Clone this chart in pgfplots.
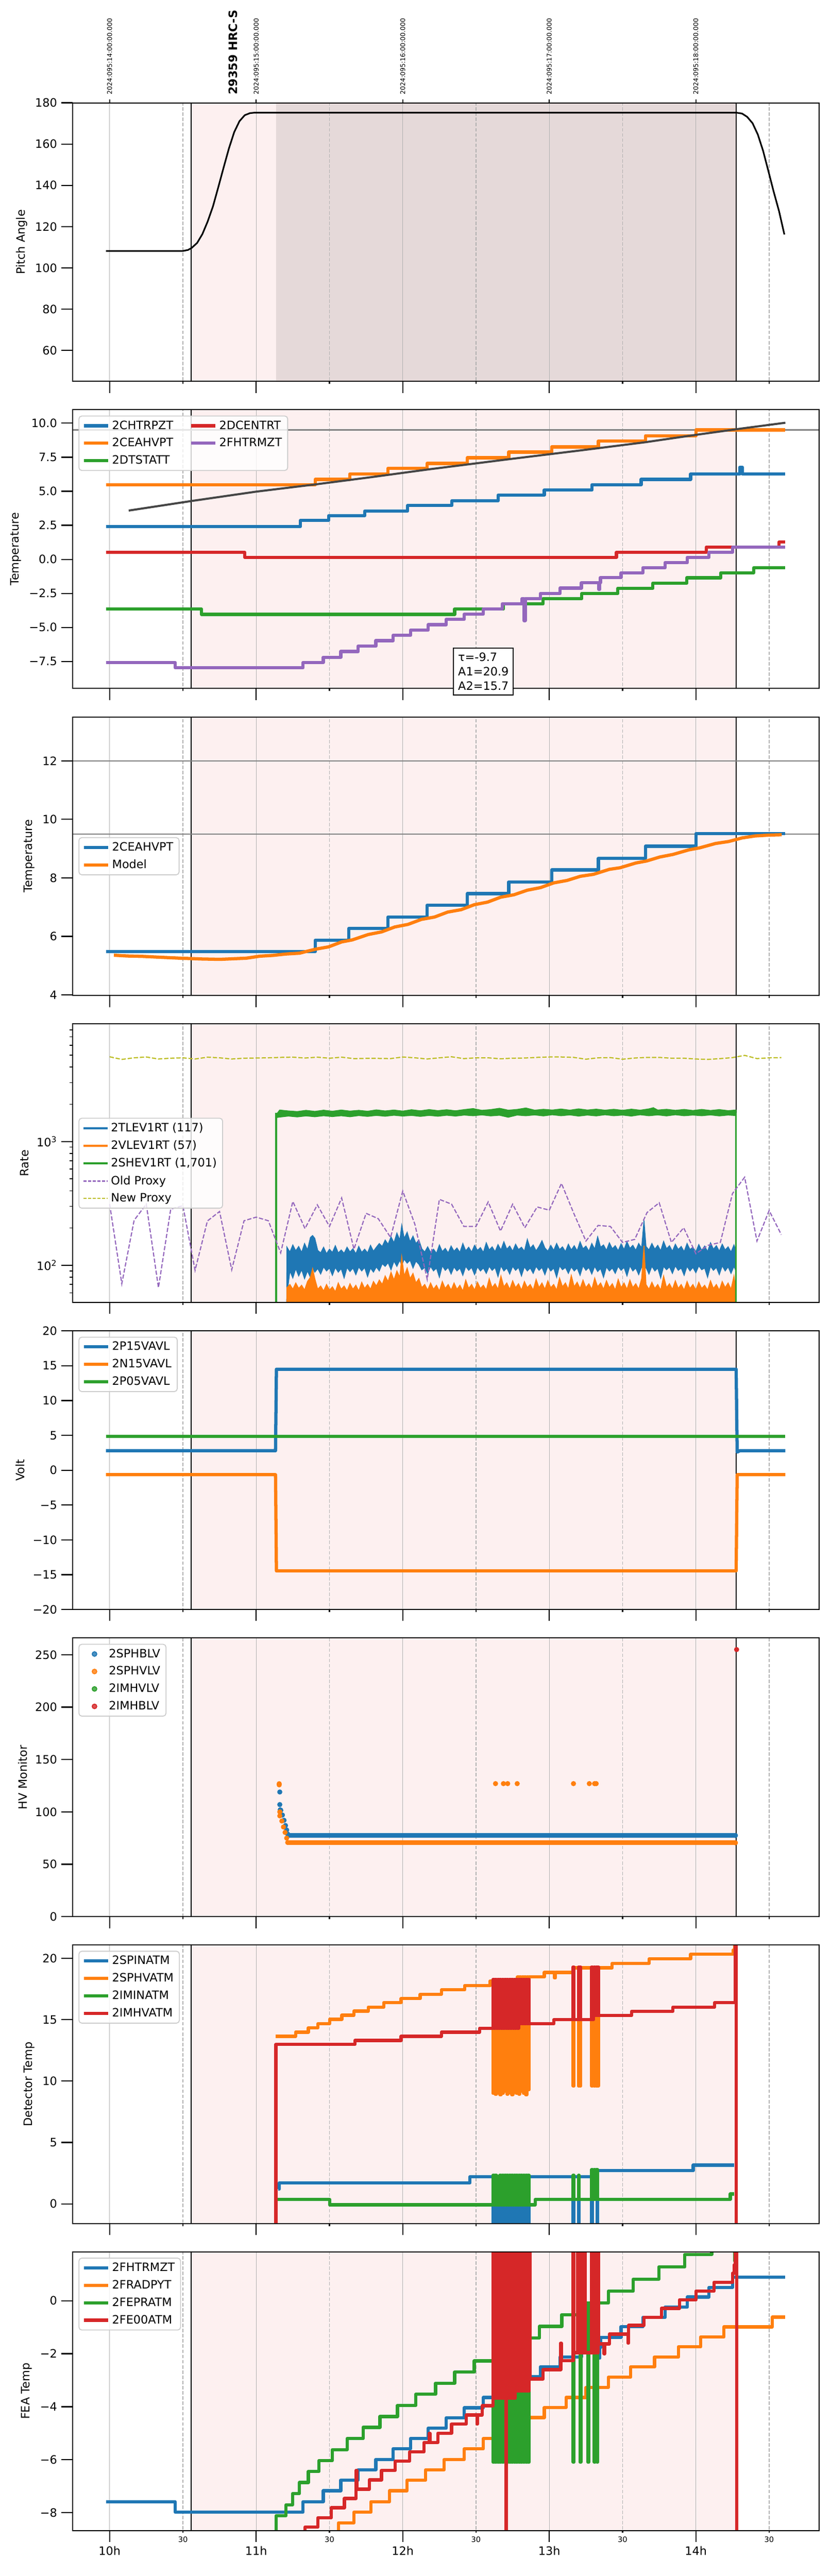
\documentclass[border=0pt]{standalone}
\usepackage{fontspec}
\setmainfont{DejaVu Sans}
\usepackage{pgfplots}
\pgfplotsset{compat=1.18}
\definecolor{tblue}{HTML}{1F77B4}
\definecolor{torange}{HTML}{FF7F0E}
\definecolor{tgreen}{HTML}{2CA02C}
\definecolor{tred}{HTML}{D62728}
\definecolor{tpurple}{HTML}{9467BD}
\definecolor{tolive}{HTML}{BCBD22}
\definecolor{spanpink}{HTML}{FDF0F0}
\definecolor{spandark}{HTML}{E5D9D9}
\definecolor{gridgray}{HTML}{B0B0B0}
\definecolor{refgray}{HTML}{808080}
\definecolor{fitgray}{HTML}{454545}
\pgfplotsset{
  panel/.style={
    axis on top,
    scale only axis, width=646.6pt, height=241.4pt,
    xmin=9.748, xmax=14.84,
    axis line style={line width=0.9pt},
    tick align=outside, xtick pos=bottom, ytick pos=left,
    major tick length=10pt, minor tick length=2.6pt,
    every tick/.style={black, line width=1pt},
    every minor tick/.style={line width=0.6pt},
    xtick={10,11,12,13,14}, xticklabels={},
    extra x ticks={10.5,11.5,12.5,13.5,14.5}, extra x tick labels={},
    extra x tick style={major tick length=2pt},
    tick label style={font=\fontsize{10}{12}\selectfont},
    ylabel style={font=\fontsize{10}{12}\selectfont},
    /pgf/number format/assume math mode=true,
    legend style={draw=black!20, line width=0.8pt, rounded corners=2.5pt, fill=white, fill opacity=0.8, draw opacity=1, text opacity=1,
      font=\fontsize{10}{12}\selectfont, at={(0.0077,0.9793)}, anchor=north west, row sep=2.2pt},
    legend cell align=left,
    legend image code/.code={\draw[#1] (0pt,0pt) -- (21pt,0pt);},
  },
  thk/.style={line width=2.8pt, line join=round},
  gmaj/.style={gridgray, line width=0.6pt, forget plot},
  gmin/.style={gridgray, line width=0.6pt, dash pattern=on 3pt off 1.5pt, forget plot},
}
\newcommand{\grids}[2]{%
  \addplot[gmaj] coordinates {(10,#1)(10,#2)};
  \addplot[gmaj] coordinates {(11,#1)(11,#2)};
  \addplot[gmaj] coordinates {(12,#1)(12,#2)};
  \addplot[gmaj] coordinates {(13,#1)(13,#2)};
  \addplot[gmaj] coordinates {(14,#1)(14,#2)};
  \addplot[gmin] coordinates {(10.5,#1)(10.5,#2)};
  \addplot[gmin] coordinates {(11.5,#1)(11.5,#2)};
  \addplot[gmin] coordinates {(12.5,#1)(12.5,#2)};
  \addplot[gmin] coordinates {(13.5,#1)(13.5,#2)};
  \addplot[gmin] coordinates {(14.5,#1)(14.5,#2)};
  \addplot[black, line width=0.8pt, forget plot] coordinates {(10.557,#1)(10.557,#2)};
  \addplot[black, line width=0.8pt, forget plot] coordinates {(14.275,#1)(14.275,#2)};
}
\newcommand{\spans}[2]{%
  \addplot[fill=spanpink, draw=none, forget plot] coordinates {(10.557,#1)(14.275,#1)(14.275,#2)(10.557,#2)(10.557,#1)};
  \grids{#1}{#2}
}
\begin{document}
\begin{tikzpicture}
\useasboundingbox (0,0) rectangle (720pt,2232pt);

% ---------------- Panel 1: Pitch
\begin{axis}[panel, at={(63pt,1901.5pt)}, anchor=south west, ymin=45, ymax=180, ytick={60,80,100,120,140,160,180}, ylabel={Pitch Angle}]
\addplot[fill=spanpink, draw=none, forget plot] coordinates {(10.557,0)(14.275,0)(14.275,200)(10.557,200)(10.557,0)};
\addplot[fill=spandark, draw=none, forget plot] coordinates {(11.136,0)(14.275,0)(14.275,200)(11.136,200)(11.136,0)};
\grids{0}{200}
\addplot[black, line width=1.4pt, line join=round] coordinates {(9.975,108.2)(10.30,108.2)(10.50,108.2)(10.535,108.7)(10.56,109.7)(10.597,112.1)(10.633,116.4)(10.669,122.5)(10.705,129.8)(10.741,139.0)(10.778,148.7)(10.814,157.9)(10.85,165.8)(10.886,171.1)(10.922,174.0)(10.958,175.0)(10.987,175.2)(14.278,175.2)(14.315,174.8)(14.35,173.2)(14.387,170.1)(14.423,164.6)(14.459,156.7)(14.495,146.9)(14.53,137.2)(14.568,127.4)(14.604,116.2)};
\end{axis}
\begin{axis}[scale only axis, width=646.6pt, height=241.4pt, at={(63pt,1901.5pt)}, anchor=south west,
  xmin=9.748, xmax=14.84, ymin=0, ymax=1, axis x line*=top, axis y line=none,
  xtick={10,11,12,13,14}, xticklabels={}, tick align=outside, major tick length=3pt,
  every tick/.style={black, line width=0.8pt}, axis line style={line width=0.9pt}]
\addplot[draw=none] coordinates {(10,0.5)(11,0.5)};
\end{axis}
\node[rotate=90, anchor=west, inner sep=0pt, font=\fontsize{5.6}{6}\selectfont] at (95.0pt,2149.7pt) {2024:095:14:00:00.000};
\node[rotate=90, anchor=west, inner sep=0pt, font=\fontsize{5.6}{6}\selectfont] at (222.0pt,2149.7pt) {2024:095:15:00:00.000};
\node[rotate=90, anchor=west, inner sep=0pt, font=\fontsize{5.6}{6}\selectfont] at (348.96pt,2149.7pt) {2024:095:16:00:00.000};
\node[rotate=90, anchor=west, inner sep=0pt, font=\fontsize{5.6}{6}\selectfont] at (475.9pt,2149.7pt) {2024:095:17:00:00.000};
\node[rotate=90, anchor=west, inner sep=0pt, font=\fontsize{5.6}{6}\selectfont] at (602.9pt,2149.7pt) {2024:095:18:00:00.000};
\node[rotate=90, anchor=west, inner sep=0pt, font=\bfseries\fontsize{10}{12}\selectfont] at (202.05pt,2149.7pt) {29359 HRC-S};

% ---------------- Panel 2: Temperature
\begin{axis}[panel, at={(63pt,1635.5pt)}, anchor=south west, ymin=-9.48, ymax=10.98,
  ytick={-7.5,-5,-2.5,0,2.5,5,7.5,10}, yticklabels={−7.5,−5.0,−2.5,0.0,2.5,5.0,7.5,10.0},
  ylabel={Temperature}, legend columns=2,
  legend style={/tikz/every even column/.append style={column sep=12pt}}]
\spans{-20}{20}
\addplot[refgray, line width=1pt, forget plot] coordinates {(9.6,9.5)(15,9.5)};
\addplot[tblue, thk, const plot, forget plot] coordinates {(9.975,2.41)(11.302,2.85)(11.494,3.21)(11.740,3.55)(12.033,3.95)(12.336,4.31)(12.651,4.72)(12.966,5.09)(13.291,5.48)(13.627,5.87)(13.964,6.26)(14.300,6.76)(14.318,6.26)(14.611,6.26)};
\addplot[torange, thk, const plot, forget plot] coordinates {(9.975,5.48)(11.403,5.87)(11.638,6.26)(11.899,6.67)(12.166,7.04)(12.441,7.46)(12.723,7.87)(13.016,8.25)(13.335,8.68)(13.656,9.08)(14.000,9.50)(14.611,9.50)};
\addplot[tgreen, thk, const plot, forget plot] coordinates {(9.975,-3.65)(10.626,-4.04)(12.354,-3.65)(12.687,-3.28)(12.958,-2.89)(13.222,-2.50)(13.468,-2.12)(13.707,-1.75)(13.938,-1.36)(14.170,-0.99)(14.394,-0.61)(14.611,-0.61)};
\addplot[tred, thk, const plot, forget plot] coordinates {(9.975,0.51)(10.922,0.15)(13.458,0.51)(14.072,0.90)(14.568,1.26)(14.611,1.26)};
\addplot[tpurple, thk, const plot, forget plot] coordinates {(9.975,-7.58)(10.448,-7.97)(11.320,-7.58)(11.458,-7.19)(11.577,-6.77)(11.696,-6.38)(11.816,-5.97)(11.935,-5.58)(12.054,-5.19)(12.174,-4.80)(12.297,-4.41)(12.420,-4.03)(12.550,-3.64)(12.680,-3.26)(12.814,-2.89)(12.828,-4.50)(12.836,-2.89)(12.940,-2.50)(13.074,-2.11)(13.219,-1.73)(13.338,-2.20)(13.345,-1.73)(13.349,-1.34)(13.490,-0.99)(13.638,-0.61)(13.790,-0.24)(13.942,0.15)(14.090,0.52)(14.250,0.90)(14.611,0.90)};
\addplot[fitgray, line width=1.8pt, forget plot] coordinates {(10.130,3.58)(10.557,4.28)(11.0,4.97)(11.403,5.50)(11.783,6.03)(12.166,6.59)(12.723,7.35)(13.23,8.02)(13.656,8.60)(14.0,9.14)(14.315,9.61)(14.611,10.03)};
\addlegendimage{tblue, line width=2.8pt}\addlegendentry{2CHTRPZT}
\addlegendimage{tred, line width=2.8pt}\addlegendentry{2DCENTRT}
\addlegendimage{torange, line width=2.8pt}\addlegendentry{2CEAHVPT}
\addlegendimage{tpurple, line width=2.8pt}\addlegendentry{2FHTRMZT}
\addlegendimage{tgreen, line width=2.8pt}\addlegendentry{2DTSTATT}
\end{axis}
\node[draw=black, line width=0.9pt, fill=white, anchor=north west, align=left, inner sep=4pt, font=\fontsize{10}{12.5}\selectfont] at (392.5pt,1670.8pt) {τ=-9.7\\A1=20.9\\A2=15.7};

% ---------------- Panel 3: Temperature model
\begin{axis}[panel, at={(63pt,1369.4pt)}, anchor=south west, ymin=3.98, ymax=13.5,
  ytick={4,6,8,10,12}, ylabel={Temperature},
  legend style={at={(0.0077,0.5)}, anchor=west}]
\spans{0}{20}
\addplot[refgray, line width=1pt, forget plot] coordinates {(9.6,12)(15,12)};
\addplot[refgray, line width=1pt, forget plot] coordinates {(9.6,9.5)(15,9.5)};
\addplot[tblue, thk, const plot, forget plot] coordinates {(9.975,5.48)(11.403,5.87)(11.632,6.27)(11.899,6.66)(12.166,7.06)(12.441,7.46)(12.723,7.86)(13.016,8.27)(13.335,8.67)(13.656,9.08)(14.000,9.51)(14.611,9.51)};
\addplot[torange, thk, forget plot] coordinates {(10.029,5.358)(10.119,5.331)(10.228,5.317)(10.336,5.290)(10.481,5.256)(10.626,5.229)(10.752,5.216)(10.843,5.236)(10.933,5.256)(11.024,5.324)(11.114,5.351)(11.204,5.399)(11.295,5.426)(11.403,5.562)(11.494,5.643)(11.584,5.813)(11.656,5.881)(11.765,6.065)(11.855,6.153)(11.946,6.323)(12.036,6.411)(12.127,6.581)(12.217,6.662)(12.307,6.832)(12.398,6.913)(12.488,7.083)(12.579,7.172)(12.669,7.341)(12.759,7.423)(12.850,7.579)(12.940,7.667)(13.031,7.830)(13.121,7.912)(13.212,8.054)(13.302,8.122)(13.410,8.292)(13.483,8.346)(13.591,8.509)(13.664,8.577)(13.754,8.713)(13.844,8.801)(13.953,8.958)(14.025,9.025)(14.134,9.175)(14.224,9.243)(14.315,9.365)(14.405,9.433)(14.495,9.460)(14.586,9.474)};
\addlegendimage{tblue, line width=2.8pt}\addlegendentry{2CEAHVPT}
\addlegendimage{torange, line width=2.8pt}\addlegendentry{Model}
\end{axis}

% ---------------- Panel 4: Rate
\begin{axis}[panel, at={(63pt,1103.4pt)}, anchor=south west, ymode=log, ymin=50, ymax=8930,
  ytick={100,1000}, yticklabels={10\textsuperscript{2},10\textsuperscript{3}},
  minor ytick={60,70,80,90,200,300,400,500,600,700,800,900,2000,3000,4000,5000,6000,7000,8000},
  ylabel={Rate}, legend style={at={(0.0077,0.5)}, anchor=west}]
\spans{1}{100000}
\addplot[fill=tblue, draw=tblue, line width=0.7pt, forget plot] coordinates {(11.208,45)(11.21,140)(11.23,128)(11.25,146)(11.27,131)(11.29,142)(11.31,127)(11.33,150)(11.35,133)(11.37,168)(11.385,174)(11.40,165)(11.42,132)(11.44,126)(11.46,140)(11.48,124)(11.50,135)(11.52,127)(11.54,144)(11.56,126)(11.58,133)(11.60,125)(11.62,140)(11.64,128)(11.66,136)(11.68,124)(11.70,142)(11.72,127)(11.74,135)(11.76,126)(11.78,145)(11.80,130)(11.82,140)(11.84,150)(11.86,142)(11.88,160)(11.90,148)(11.92,170)(11.94,152)(11.96,182)(11.98,160)(11.993,211)(12.01,165)(12.03,185)(12.05,155)(12.07,172)(12.09,150)(12.11,160)(12.13,136)(12.15,128)(12.17,141)(12.19,127)(12.21,135)(12.23,125)(12.25,146)(12.27,129)(12.29,137)(12.31,126)(12.33,143)(12.35,130)(12.37,138)(12.39,127)(12.41,150)(12.43,131)(12.45,140)(12.47,128)(12.49,145)(12.51,132)(12.53,139)(12.55,127)(12.57,152)(12.59,133)(12.61,141)(12.63,129)(12.65,147)(12.67,133)(12.69,155)(12.71,135)(12.73,143)(12.75,130)(12.77,148)(12.79,134)(12.81,140)(12.83,130)(12.85,162)(12.87,137)(12.89,146)(12.91,131)(12.93,142)(12.95,158)(12.97,138)(12.99,130)(13.01,145)(13.03,132)(13.05,150)(13.07,134)(13.09,141)(13.11,129)(13.13,148)(13.15,133)(13.17,144)(13.19,131)(13.21,155)(13.23,136)(13.25,143)(13.27,130)(13.29,150)(13.31,135)(13.33,170)(13.35,140)(13.37,146)(13.39,132)(13.41,152)(13.43,136)(13.45,144)(13.47,131)(13.49,149)(13.51,134)(13.53,155)(13.55,137)(13.57,145)(13.59,132)(13.61,150)(13.63,138)(13.646,231)(13.66,142)(13.68,133)(13.70,150)(13.72,135)(13.74,145)(13.76,131)(13.78,156)(13.80,136)(13.82,144)(13.84,130)(13.86,148)(13.88,134)(13.90,142)(13.92,129)(13.94,150)(13.96,134)(13.98,140)(14.00,128)(14.02,147)(14.04,132)(14.06,143)(14.08,129)(14.10,152)(14.12,135)(14.14,144)(14.16,130)(14.18,148)(14.20,133)(14.22,141)(14.24,128)(14.26,146)(14.27,135)
(14.27,92)(14.26,98)(14.24,86)(14.22,97)(14.20,90)(14.18,99)(14.16,84)(14.14,96)(14.12,91)(14.10,98)(14.08,80)(14.06,95)(14.04,92)(14.02,99)(14.00,87)(13.98,96)(13.96,90)(13.94,98)(13.92,83)(13.90,95)(13.88,91)(13.86,99)(13.84,86)(13.82,97)(13.80,92)(13.78,98)(13.76,79)(13.74,95)(13.72,90)(13.70,98)(13.68,85)(13.66,96)(13.646,92)(13.63,97)(13.61,84)(13.59,95)(13.57,90)(13.55,99)(13.53,82)(13.51,96)(13.49,91)(13.47,98)(13.45,86)(13.43,95)(13.41,90)(13.39,97)(13.37,80)(13.35,94)(13.33,89)(13.31,98)(13.29,85)(13.27,96)(13.25,91)(13.23,99)(13.21,83)(13.19,95)(13.17,90)(13.15,97)(13.13,86)(13.11,96)(13.09,92)(13.07,99)(13.05,80)(13.03,95)(13.01,90)(12.99,98)(12.97,84)(12.95,96)(12.93,91)(12.91,98)(12.89,86)(12.87,95)(12.85,90)(12.83,97)(12.81,82)(12.79,96)(12.77,91)(12.75,98)(12.73,85)(12.71,95)(12.69,90)(12.67,99)(12.65,81)(12.63,96)(12.61,91)(12.59,98)(12.57,86)(12.55,95)(12.53,90)(12.51,97)(12.49,84)(12.47,96)(12.45,91)(12.43,98)(12.41,83)(12.39,95)(12.37,90)(12.35,97)(12.33,85)(12.31,96)(12.29,91)(12.27,99)(12.25,80)(12.23,95)(12.21,90)(12.19,98)(12.17,86)(12.15,96)(12.13,92)(12.11,102)(12.09,108)(12.07,95)(12.05,110)(12.03,104)(12.01,112)(11.993,100)(11.98,110)(11.96,98)(11.94,108)(11.92,92)(11.90,105)(11.88,98)(11.86,103)(11.84,90)(11.82,97)(11.80,88)(11.78,95)(11.76,81)(11.74,96)(11.72,90)(11.70,97)(11.68,84)(11.66,95)(11.64,89)(11.62,96)(11.60,79)(11.58,94)(11.56,88)(11.54,96)(11.52,83)(11.50,95)(11.48,90)(11.46,97)(11.44,85)(11.42,94)(11.40,88)(11.385,95)(11.37,80)(11.35,90)(11.33,78)(11.31,92)(11.29,82)(11.27,94)(11.25,79)(11.23,90)(11.212,60)(11.208,45)};
\addplot[fill=torange, draw=torange, line width=0.7pt, forget plot] coordinates {(11.208,40)(11.21,66)(11.23,70)(11.25,64)(11.27,72)(11.29,65)(11.31,69)(11.33,63)(11.35,74)(11.37,80)(11.385,94)(11.40,78)(11.42,64)(11.44,68)(11.46,62)(11.48,70)(11.50,63)(11.52,67)(11.54,61)(11.56,72)(11.58,64)(11.60,68)(11.62,62)(11.64,71)(11.66,64)(11.68,69)(11.70,62)(11.72,73)(11.74,65)(11.76,70)(11.78,64)(11.80,74)(11.82,68)(11.84,76)(11.86,70)(11.88,82)(11.90,74)(11.92,88)(11.94,76)(11.96,90)(11.98,80)(11.993,117)(12.01,82)(12.03,95)(12.05,78)(12.07,86)(12.09,72)(12.11,78)(12.13,66)(12.15,70)(12.17,63)(12.19,72)(12.21,64)(12.23,69)(12.25,62)(12.27,74)(12.29,65)(12.31,70)(12.33,63)(12.35,72)(12.37,64)(12.39,69)(12.41,62)(12.43,76)(12.45,65)(12.47,70)(12.49,63)(12.51,73)(12.53,65)(12.55,69)(12.57,63)(12.59,78)(12.61,66)(12.63,71)(12.65,64)(12.67,82)(12.69,67)(12.71,72)(12.73,64)(12.75,75)(12.77,66)(12.79,71)(12.81,63)(12.83,74)(12.85,66)(12.87,70)(12.89,63)(12.91,77)(12.93,66)(12.95,72)(12.97,64)(12.99,75)(13.01,66)(13.03,70)(13.05,63)(13.07,79)(13.09,67)(13.11,72)(13.13,64)(13.15,83)(13.17,67)(13.19,73)(13.21,65)(13.23,76)(13.25,66)(13.27,71)(13.29,64)(13.31,79)(13.33,67)(13.35,72)(13.37,64)(13.39,75)(13.41,66)(13.43,71)(13.45,63)(13.47,77)(13.49,66)(13.51,72)(13.53,64)(13.55,76)(13.57,66)(13.59,71)(13.61,64)(13.63,78)(13.646,144)(13.66,70)(13.68,64)(13.70,73)(13.72,65)(13.74,70)(13.76,63)(13.78,82)(13.80,66)(13.82,71)(13.84,64)(13.86,75)(13.88,65)(13.90,70)(13.92,63)(13.94,74)(13.96,65)(13.98,70)(14.00,63)(14.02,73)(14.04,65)(14.06,69)(14.08,63)(14.10,75)(14.12,65)(14.14,70)(14.16,63)(14.18,74)(14.20,66)(14.22,72)(14.24,64)(14.26,82)(14.27,68)(14.27,40)(11.208,40)};
\addplot[fill=tgreen, draw=tgreen, line width=0.6pt, forget plot] coordinates {(11.136,1650)(11.16,1800)(11.22,1770)(11.28,1750)(11.34,1790)(11.40,1755)(11.46,1795)(11.52,1760)(11.58,1800)(11.64,1765)(11.70,1790)(11.76,1760)(11.82,1805)(11.88,1770)(11.94,1800)(12.00,1765)(12.06,1810)(12.12,1775)(12.18,1815)(12.24,1780)(12.30,1810)(12.36,1775)(12.42,1815)(12.48,1850)(12.54,1790)(12.60,1815)(12.66,1860)(12.72,1795)(12.78,1820)(12.84,1870)(12.90,1795)(12.96,1825)(13.02,1800)(13.08,1835)(13.14,1795)(13.20,1840)(13.26,1800)(13.32,1830)(13.38,1795)(13.44,1825)(13.50,1790)(13.56,1830)(13.62,1795)(13.68,1840)(13.71,1880)(13.74,1800)(13.80,1825)(13.86,1790)(13.92,1820)(13.98,1785)(14.04,1820)(14.10,1785)(14.16,1815)(14.22,1780)(14.275,1800)
(14.275,1620)(14.22,1635)(14.16,1610)(14.10,1640)(14.04,1615)(13.98,1635)(13.92,1615)(13.86,1645)(13.80,1610)(13.74,1640)(13.68,1615)(13.62,1645)(13.56,1605)(13.50,1635)(13.44,1615)(13.38,1645)(13.32,1610)(13.26,1635)(13.20,1605)(13.14,1640)(13.08,1615)(13.02,1645)(12.96,1610)(12.90,1640)(12.84,1615)(12.78,1635)(12.72,1570)(12.66,1630)(12.60,1610)(12.54,1640)(12.48,1615)(12.42,1635)(12.36,1605)(12.30,1630)(12.24,1600)(12.18,1625)(12.12,1595)(12.06,1625)(12.00,1605)(11.94,1630)(11.88,1600)(11.82,1625)(11.76,1595)(11.70,1620)(11.64,1585)(11.58,1615)(11.52,1590)(11.46,1615)(11.40,1585)(11.34,1610)(11.28,1580)(11.22,1605)(11.16,1575)(11.136,1560)(11.136,1650)};
\addplot[tgreen, line width=1.4pt, forget plot] coordinates {(11.136,40)(11.136,1700)};
\addplot[tgreen, line width=1.4pt, forget plot] coordinates {(14.275,1700)(14.275,40)};
\addplot[tpurple, line width=1pt, dash pattern=on 3.7pt off 1.6pt, forget plot] coordinates {(10.000,312)(10.083,71)(10.167,231)(10.250,312)(10.333,66)(10.417,285)(10.500,303)(10.583,91)(10.667,228)(10.750,272)(10.833,92)(10.917,229)(11.000,245)(11.083,229)(11.167,126)(11.250,328)(11.333,198)(11.417,308)(11.500,206)(11.583,350)(11.667,135)(11.750,263)(11.833,238)(11.917,168)(12.000,398)(12.083,214)(12.167,77)(12.250,341)(12.333,312)(12.417,206)(12.500,206)(12.583,325)(12.667,189)(12.750,312)(12.833,201)(12.917,296)(13.000,279)(13.083,459)(13.167,263)(13.250,157)(13.333,210)(13.417,206)(13.500,153)(13.583,162)(13.667,267)(13.750,320)(13.833,153)(13.917,201)(14.000,124)(14.083,145)(14.167,153)(14.250,380)(14.333,515)(14.417,157)(14.500,277)(14.583,177)};
\addplot[tolive, line width=1pt, dash pattern=on 3.7pt off 1.6pt, forget plot] coordinates {(10.000,4843)(10.083,4613)(10.167,4753)(10.250,4825)(10.333,4648)(10.417,4718)(10.500,4753)(10.583,4648)(10.667,4807)(10.750,4753)(10.833,4648)(10.917,4718)(11.000,4735)(11.083,4753)(11.167,4789)(11.250,4807)(11.333,4735)(11.417,4807)(11.500,4718)(11.583,4807)(11.667,4683)(11.750,4700)(11.833,4700)(11.917,4683)(12.000,4825)(12.083,4753)(12.167,4648)(12.250,4753)(12.333,4843)(12.417,4683)(12.500,4753)(12.583,4753)(12.667,4665)(12.750,4718)(12.833,4735)(12.917,4789)(13.000,4825)(13.083,4825)(13.167,4789)(13.250,4630)(13.333,4753)(13.417,4771)(13.500,4630)(13.583,4735)(13.667,4789)(13.750,4789)(13.833,4718)(13.917,4718)(14.000,4648)(14.083,4613)(14.167,4683)(14.250,4771)(14.333,4973)(14.417,4683)(14.500,4753)(14.583,4771)};
\addlegendimage{tblue, line width=1.8pt}\addlegendentry{2TLEV1RT (117)}
\addlegendimage{torange, line width=1.8pt}\addlegendentry{2VLEV1RT (57)}
\addlegendimage{tgreen, line width=1.8pt}\addlegendentry{2SHEV1RT (1,701)}
\addlegendimage{tpurple, line width=1pt, dash pattern=on 2.6pt off 1.4pt}\addlegendentry{Old Proxy}
\addlegendimage{tolive, line width=1pt, dash pattern=on 2.6pt off 1.4pt}\addlegendentry{New Proxy}
\end{axis}

% ---------------- Panel 5: Volt
\begin{axis}[panel, at={(63pt,837.4pt)}, anchor=south west, ymin=-20, ymax=20,
  ytick={-20,-15,-10,-5,0,5,10,15,20}, yticklabels={−20,−15,−10,−5,0,5,10,15,20}, ylabel={Volt}]
\spans{-30}{30}
\addplot[tblue, thk, forget plot] coordinates {(9.975,2.8)(11.132,2.8)(11.138,14.5)(14.275,14.5)(14.282,2.6)(14.30,2.8)(14.611,2.8)};
\addplot[torange, thk, forget plot] coordinates {(9.975,-0.64)(11.132,-0.64)(11.138,-14.45)(14.275,-14.45)(14.282,-0.64)(14.611,-0.64)};
\addplot[tgreen, thk, forget plot] coordinates {(9.975,4.86)(14.611,4.86)};
\addlegendimage{tblue, line width=2.8pt}\addlegendentry{2P15VAVL}
\addlegendimage{torange, line width=2.8pt}\addlegendentry{2N15VAVL}
\addlegendimage{tgreen, line width=2.8pt}\addlegendentry{2P05VAVL}
\end{axis}

% ---------------- Panel 6: HV Monitor
\begin{axis}[panel, at={(63pt,571.3pt)}, anchor=south west, ymin=0, ymax=266,
  ytick={0,50,100,150,200,250}, ylabel={HV Monitor},
  legend image code/.code={\path[draw=none, fill=none] (0pt,0pt) -- (21pt,0pt); \path[#1, draw=none] plot coordinates {(10.5pt,0pt)};}]
\spans{-10}{300}
\addplot[only marks, mark=*, mark size=2pt, tblue, forget plot] coordinates {(11.161,119)(11.161,107)(11.164,102)(11.168,101.5)(11.179,97)(11.19,92)(11.20,87)(11.208,82.7)(11.215,78.8)(11.22,77.5)(14.27,77.5)};
\addplot[tblue, line width=4.3pt, forget plot] coordinates {(11.215,77.5)(14.272,77.5)};
\addplot[only marks, mark=*, mark size=2pt, torange, forget plot] coordinates {(11.157,126.9)(11.157,125.8)(11.161,100)(11.161,96.2)(11.175,91.3)(11.186,85.6)(11.197,80.4)(11.208,75)(11.215,70.8)(14.27,70.5)(12.633,127)(12.687,127)(12.716,127)(12.781,127)(13.165,127)(13.273,127)(13.309,127)(13.320,127)};
\addplot[torange, line width=3.9pt, forget plot] coordinates {(11.215,70.5)(14.272,70.5)};
\addplot[only marks, mark=*, mark size=2pt, tred, forget plot] coordinates {(14.278,255)};
\addlegendimage{tblue, mark=*, mark size=2pt, mark options={fill=tblue, draw=tblue}}\addlegendentry{2SPHBLV}
\addlegendimage{torange, mark=*, mark size=2pt, mark options={fill=torange, draw=torange}}\addlegendentry{2SPHVLV}
\addlegendimage{tgreen, mark=*, mark size=2pt, mark options={fill=tgreen, draw=tgreen}}\addlegendentry{2IMHVLV}
\addlegendimage{tred, mark=*, mark size=2pt, mark options={fill=tred, draw=tred}}\addlegendentry{2IMHBLV}
\end{axis}

% ---------------- Panel 7: Detector Temp
\begin{axis}[panel, at={(63pt,305.3pt)}, anchor=south west, ymin=-1.61, ymax=21.08,
  ytick={0,5,10,15,20}, ylabel={Detector Temp}]
\spans{-10}{30}
\addplot[tblue, thk, const plot, forget plot] coordinates {(11.150,1.2)(11.158,1.72)(12.459,2.21)(12.615,-3)(12.623,2.21)(12.631,-3)(12.639,2.21)(12.663,-3)(12.671,2.21)(12.679,-3)(12.687,2.21)(12.695,-3)(12.703,2.21)(12.711,-3)(12.719,2.21)(12.727,-3)(12.735,2.21)(12.743,-3)(12.751,2.21)(12.759,-3)(12.767,2.21)(12.775,-3)(12.783,2.21)(12.791,-3)(12.799,2.21)(12.807,-3)(12.815,2.21)(12.823,-3)(12.831,2.21)(12.839,-3)(12.847,2.21)(12.855,-3)(12.863,2.21)(13.163,-3)(13.168,2.21)(13.199,-3)(13.204,2.21)(13.289,-3)(13.294,2.70)(13.325,-3)(13.330,2.70)(13.982,3.15)(14.260,3.15)};
\addplot[torange, thk, const plot, forget plot] coordinates {(11.132,13.64)(11.269,13.98)(11.356,14.34)(11.421,14.67)(11.501,15.03)(11.584,15.36)(11.667,15.70)(11.765,16.03)(11.870,16.39)(11.989,16.72)(12.119,17.07)(12.264,17.43)(12.423,17.79)(12.597,18.15)(12.615,9.0)(12.623,18.15)(12.631,8.95)(12.639,18.15)(12.647,9.1)(12.655,18.15)(12.663,8.9)(12.671,18.15)(12.679,9.0)(12.687,18.15)(12.695,9.2)(12.703,18.15)(12.711,8.95)(12.719,18.15)(12.727,9.05)(12.735,18.15)(12.743,8.9)(12.751,18.15)(12.759,9.1)(12.767,18.15)(12.775,9.0)(12.783,18.48)(12.791,8.95)(12.799,18.48)(12.807,9.2)(12.815,18.48)(12.823,9.0)(12.831,18.48)(12.839,8.9)(12.847,18.48)(12.855,9.3)(12.863,18.48)(12.966,18.85)(13.035,18.40)(13.042,18.85)(13.163,9.6)(13.168,19.23)(13.199,9.6)(13.204,19.23)(13.209,9.6)(13.214,19.23)(13.289,9.6)(13.294,19.23)(13.305,9.6)(13.310,19.23)(13.320,9.6)(13.325,19.23)(13.330,9.6)(13.335,19.23)(13.429,19.59)(13.682,19.95)(13.964,20.33)(14.253,20.65)(14.266,25)(14.27,25)};
\addplot[tgreen, thk, const plot, forget plot] coordinates {(11.132,0.36)(11.501,-0.08)(12.615,2.33)(12.623,-0.08)(12.631,2.33)(12.639,-0.08)(12.663,2.33)(12.671,-0.08)(12.679,2.33)(12.687,-0.08)(12.695,2.33)(12.703,-0.08)(12.711,2.33)(12.719,-0.08)(12.727,2.33)(12.735,-0.08)(12.743,2.33)(12.751,-0.08)(12.759,2.33)(12.767,-0.08)(12.775,2.33)(12.783,-0.08)(12.791,2.33)(12.799,-0.08)(12.807,2.33)(12.815,-0.08)(12.823,2.33)(12.831,-0.08)(12.839,2.33)(12.847,-0.08)(12.855,2.33)(12.863,-0.08)(12.904,0.36)(13.163,2.33)(13.168,0.36)(13.199,2.33)(13.204,0.36)(13.289,2.79)(13.294,0.36)(13.305,2.79)(13.310,0.36)(13.320,2.79)(13.330,0.36)(14.235,0.80)(14.260,0.80)};
\addplot[tred, thk, const plot, forget plot] coordinates {(11.132,-3)(11.134,12.98)(11.674,13.31)(11.989,13.64)(12.264,13.98)(12.524,14.31)(12.615,18.28)(12.623,14.31)(12.631,18.28)(12.639,14.31)(12.647,18.28)(12.655,14.31)(12.663,18.28)(12.671,14.31)(12.679,18.28)(12.687,14.31)(12.695,18.28)(12.703,14.31)(12.711,18.28)(12.719,14.31)(12.727,18.28)(12.735,14.31)(12.743,18.28)(12.751,14.31)(12.759,18.28)(12.767,14.31)(12.775,18.28)(12.783,14.31)(12.791,18.28)(12.799,14.66)(12.807,18.28)(12.815,14.66)(12.823,18.28)(12.831,14.66)(12.839,18.28)(12.847,14.66)(12.855,18.28)(12.863,14.66)(13.031,15.0)(13.163,19.3)(13.168,15.0)(13.199,19.3)(13.204,15.0)(13.209,19.3)(13.214,15.0)(13.289,19.3)(13.294,15.0)(13.302,15.34)(13.305,19.3)(13.310,15.34)(13.320,19.3)(13.325,15.34)(13.330,19.3)(13.335,15.34)(13.562,15.69)(13.844,16.03)(14.127,16.38)(14.268,30)(14.276,-5)(14.28,-5)};
\addlegendimage{tblue, line width=2.8pt}\addlegendentry{2SPINATM}
\addlegendimage{torange, line width=2.8pt}\addlegendentry{2SPHVATM}
\addlegendimage{tgreen, line width=2.8pt}\addlegendentry{2IMINATM}
\addlegendimage{tred, line width=2.8pt}\addlegendentry{2IMHVATM}
\end{axis}

% ---------------- Panel 8: FEA Temp
\begin{axis}[panel, at={(63pt,39.4pt)}, anchor=south west, ymin=-8.67, ymax=1.84,
  ytick={-8,-6,-4,-2,0}, yticklabels={−8,−6,−4,−2,0}, ylabel={FEA Temp},
  xticklabels={10h,11h,12h,13h,14h}, extra x tick labels={30,30,30,30,30},
  extra x tick style={major tick length=2pt, xticklabel style={font=\fontsize{6.5}{7}\selectfont}},
  xlabel={2024-04-04 (095)}, xlabel style={font=\fontsize{12}{14}\selectfont}]
\spans{-20}{20}
\addplot[tblue, thk, const plot, forget plot] coordinates {(9.975,-7.58)(10.448,-7.98)(11.320,-7.58)(11.458,-7.17)(11.577,-6.77)(11.696,-6.38)(11.816,-5.99)(11.935,-5.58)(12.054,-5.19)(12.174,-4.81)(12.297,-4.42)(12.420,-4.04)(12.550,-3.65)(12.680,-3.26)(12.814,-2.86)(12.940,-2.49)(13.074,-2.12)(13.219,-1.77)(13.338,-2.17)(13.345,-1.77)(13.349,-1.38)(13.490,-0.98)(13.638,-0.63)(13.790,-0.24)(13.942,0.14)(14.090,0.50)(14.250,0.88)(14.611,0.88)};
\addplot[torange, thk, const plot, forget plot] coordinates {(11.559,-9)(11.561,-8.38)(11.667,-7.98)(11.783,-7.58)(11.910,-7.17)(12.029,-6.77)(12.156,-6.38)(12.282,-5.99)(12.420,-5.59)(12.550,-5.20)(12.687,-4.80)(12.850,-4.41)(12.966,-4.03)(13.114,-3.65)(13.251,-3.27)(13.403,-2.89)(13.555,-2.50)(13.718,-2.12)(13.881,-1.74)(14.033,-1.37)(14.192,-0.99)(14.521,-0.62)(14.611,-0.62)};
\addplot[tgreen, thk, const plot, forget plot] coordinates {(11.132,-9)(11.135,-8.11)(11.204,-7.70)(11.248,-7.28)(11.295,-6.86)(11.356,-6.44)(11.429,-6.03)(11.519,-5.62)(11.620,-5.20)(11.729,-4.78)(11.844,-4.37)(11.964,-3.95)(12.090,-3.53)(12.224,-3.11)(12.354,-2.69)(12.488,-2.27)(12.615,-6.09)(12.623,-1.85)(12.631,-6.09)(12.639,-1.85)(12.647,-6.09)(12.655,-1.85)(12.663,-6.09)(12.671,-1.85)(12.679,-6.09)(12.687,-1.85)(12.695,-6.09)(12.703,-1.85)(12.711,-6.09)(12.719,-1.85)(12.727,-6.09)(12.735,-1.85)(12.743,-6.09)(12.751,-1.85)(12.759,-6.09)(12.767,-1.85)(12.775,-6.09)(12.783,-1.40)(12.791,-6.09)(12.799,-1.40)(12.807,-6.09)(12.815,-1.40)(12.823,-6.09)(12.831,-1.40)(12.839,-6.09)(12.847,-1.40)(12.855,-6.09)(12.863,-1.40)(12.933,-0.97)(13.085,-0.53)(13.163,-6.09)(13.168,-0.53)(13.210,-6.09)(13.215,-0.53)(13.248,-0.09)(13.264,-6.09)(13.269,-0.09)(13.307,-6.09)(13.312,-0.09)(13.325,-6.09)(13.330,-0.09)(13.403,0.36)(13.573,0.81)(13.747,1.27)(13.924,1.74)(14.108,2.2)(14.266,1.5)(14.27,1.5)};
\addplot[tred, thk, const plot, forget plot] coordinates {(11.331,-9)(11.334,-8.54)(11.421,-8.19)(11.512,-7.81)(11.602,-7.46)(11.682,-6.4)(11.686,-7.11)(11.772,-6.76)(11.855,-6.40)(11.949,-6.05)(12.047,-5.70)(12.145,-5.35)(12.181,-5.0)(12.185,-5.35)(12.239,-5.0)(12.333,-4.65)(12.434,-4.31)(12.506,-4.65)(12.510,-4.31)(12.542,-3.96)(12.615,3)(12.623,-3.68)(12.631,3)(12.639,-3.68)(12.647,3)(12.655,-3.68)(12.663,3)(12.671,-3.68)(12.679,3)(12.687,-3.68)(12.695,3)(12.703,-9)(12.707,3)(12.711,-3.68)(12.719,3)(12.727,-3.68)(12.735,3)(12.743,-3.68)(12.751,3)(12.759,-3.68)(12.767,3)(12.775,-3.4)(12.783,3)(12.791,-3.4)(12.799,3)(12.807,-3.4)(12.815,3)(12.823,-3.4)(12.831,3)(12.839,-3.4)(12.847,3)(12.855,-3.4)(12.863,3)(12.868,-2.95)(12.958,-2.60)(13.078,-1.6)(13.082,-2.26)(13.163,3)(13.168,-1.96)(13.193,3)(13.198,-1.96)(13.210,3)(13.215,-1.96)(13.240,3)(13.245,-1.96)(13.289,3)(13.294,-1.96)(13.305,3)(13.310,-1.96)(13.320,3)(13.325,-1.96)(13.333,3)(13.338,-1.63)(13.374,-2.0)(13.378,-1.63)(13.410,-1.26)(13.537,-1.6)(13.541,-0.93)(13.646,-0.63)(13.765,-0.29)(13.888,0.03)(14.000,0.36)(14.123,0.69)(14.250,1.03)(14.262,1.35)(14.270,5)(14.278,-12)(14.282,-12)};
\addlegendimage{tblue, line width=2.8pt}\addlegendentry{2FHTRMZT}
\addlegendimage{torange, line width=2.8pt}\addlegendentry{2FRADPYT}
\addlegendimage{tgreen, line width=2.8pt}\addlegendentry{2FEPRATM}
\addlegendimage{tred, line width=2.8pt}\addlegendentry{2FE00ATM}
\end{axis}
\end{tikzpicture}
\end{document}
